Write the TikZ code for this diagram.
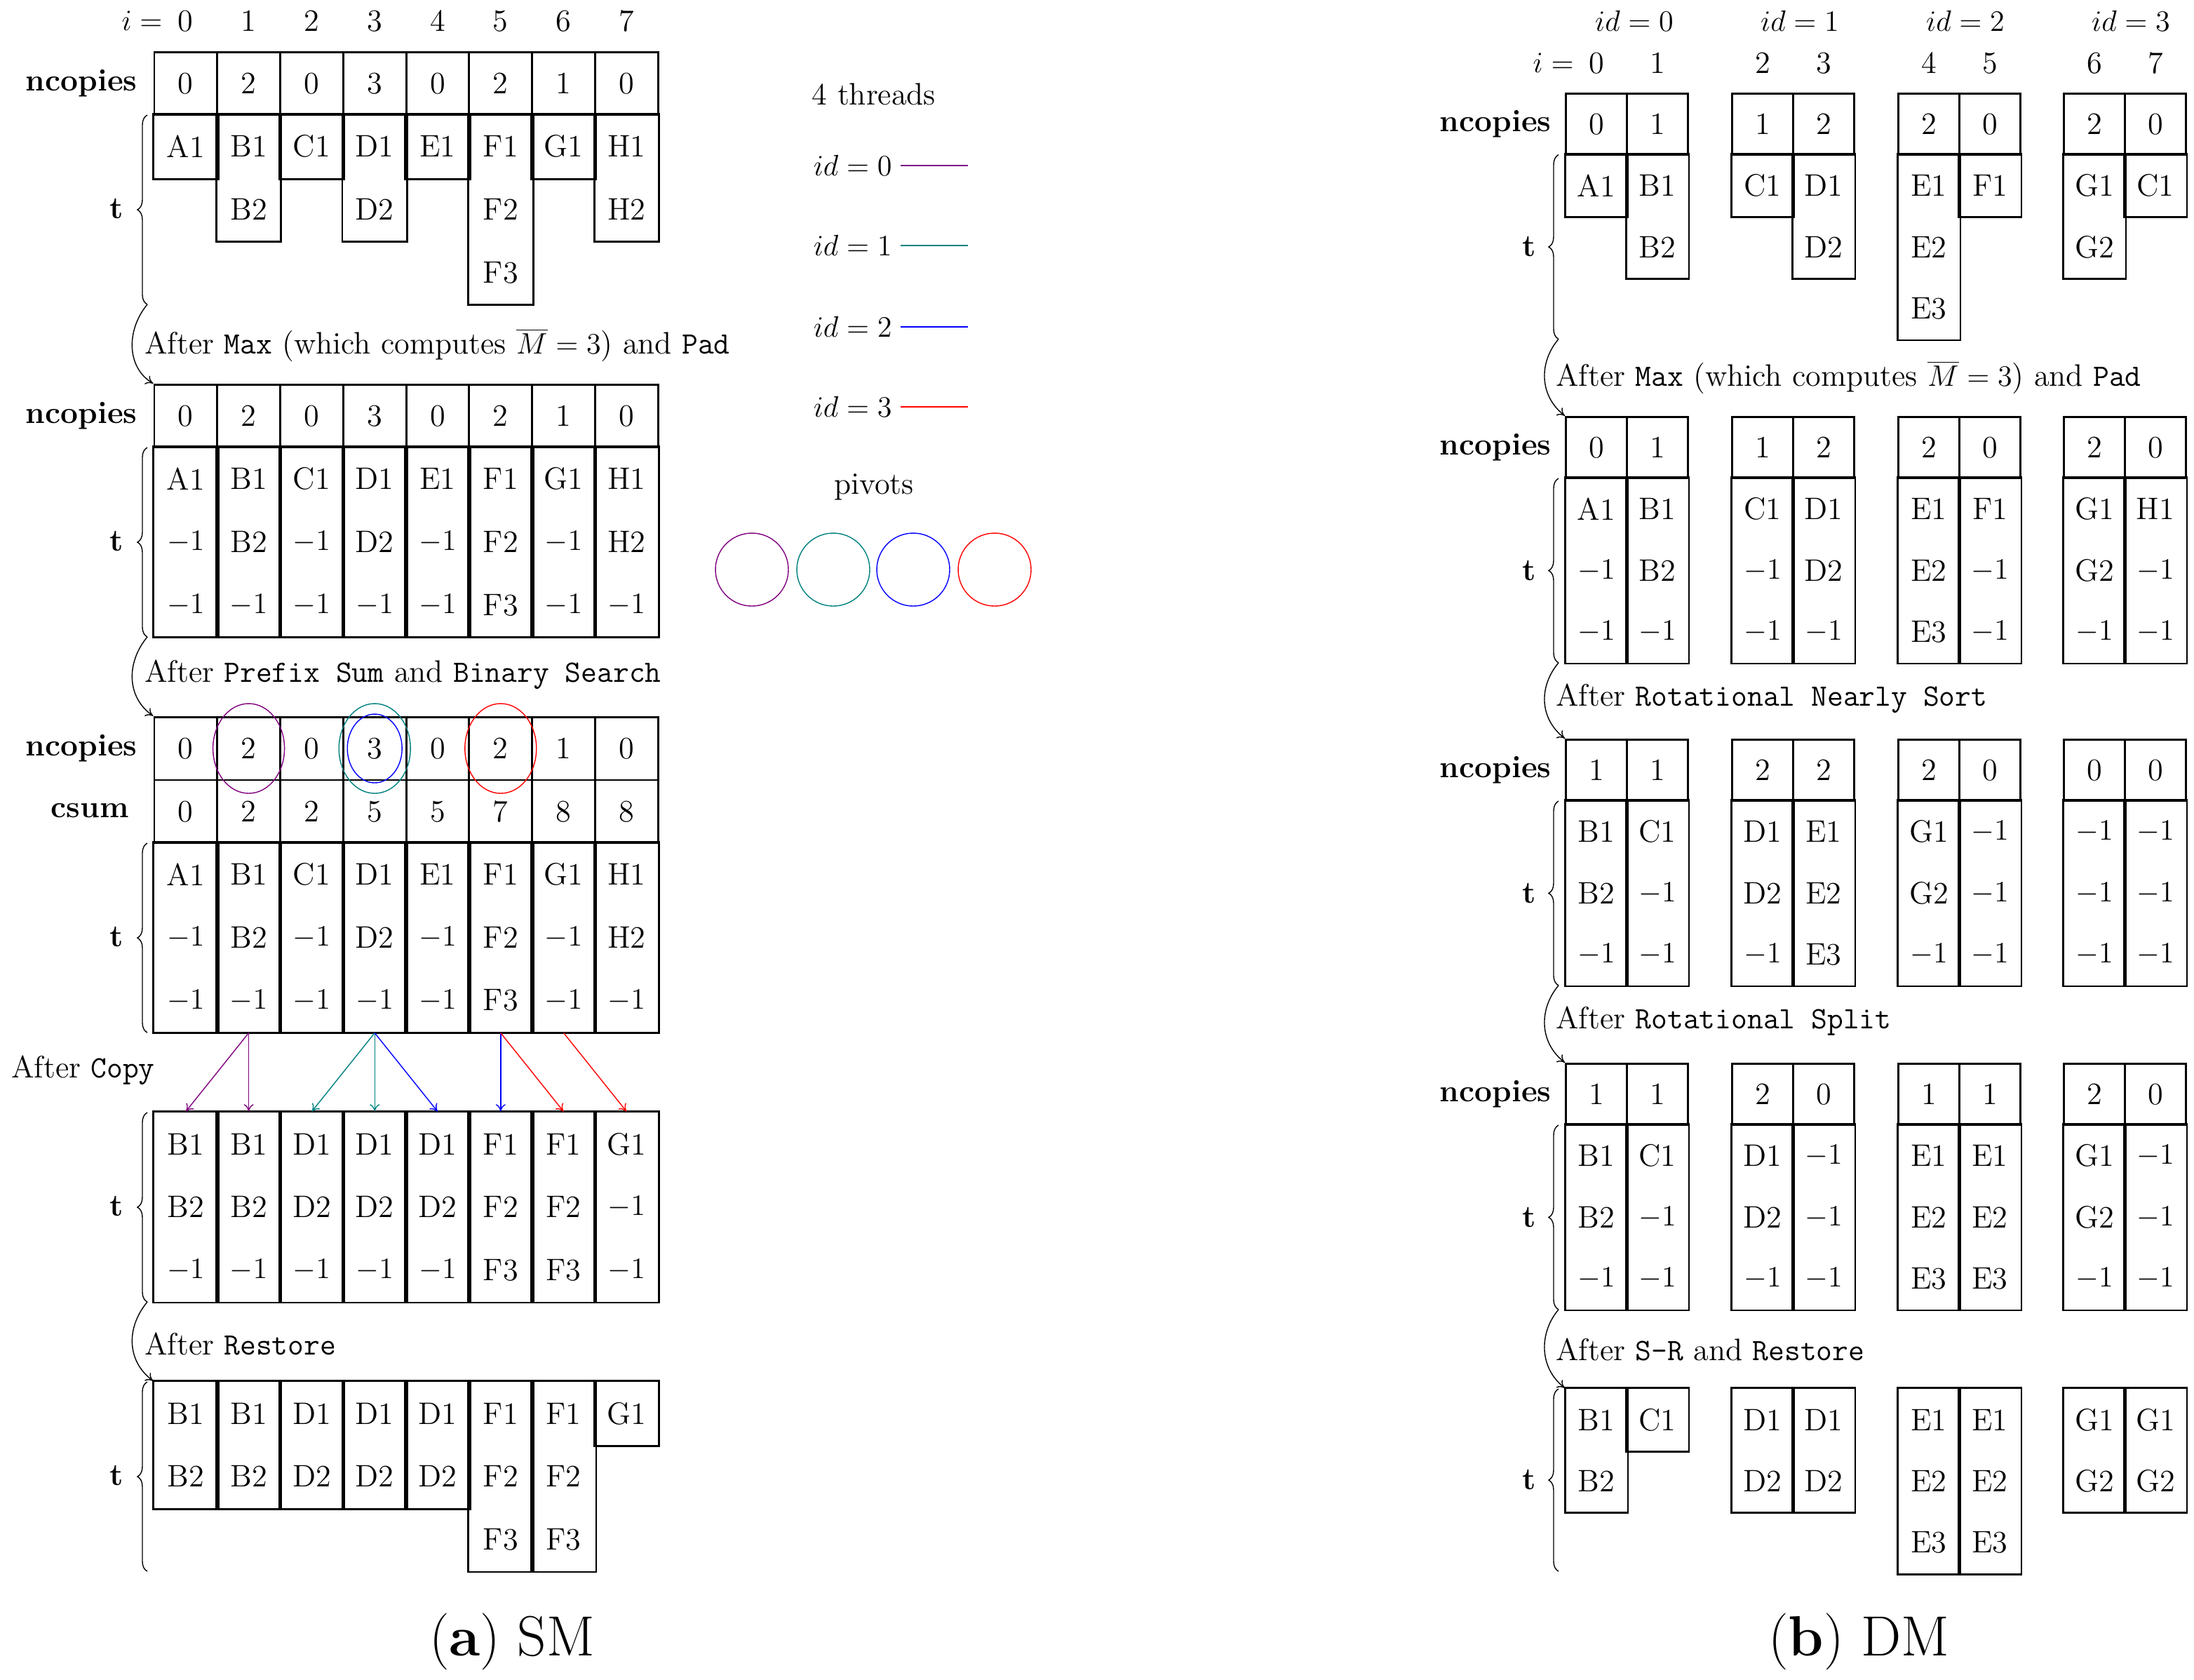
\documentclass[tikz,border=0pt]{standalone}
\usetikzlibrary{decorations.pathreplacing,arrows.meta}
\definecolor{mypurple}{rgb}{0.5,0,0.5}
\newcommand\mo{$-1$}
\newcommand\rh{44.9}
\newcommand\tab[4]{%
  \foreach \x/\lst [count=\c] in {#4} {%
    \foreach \t [count=\k from 0] in \lst {%
      \ifnum\k<#3\relax
        \node[cell,draw] (#1-\c-\k) at (\x, #2+\k*\rh) {\t};
      \else
        \node[cell] (#1-\c-\k) at (\x, #2+\k*\rh) {\t};
      \fi
      \xdef\lastk{\k}
    }
    \draw[thick] (#1-\c-#3.north west) rectangle (#1-\c-\lastk.south east);
  }%
}
\begin{document}
\begin{tikzpicture}[x=0.02cm,y=-0.02cm,
  every node/.style={font=\fontsize{12.6}{15}\selectfont},
  cellL/.style={thick,minimum width=0.898cm,minimum height=0.898cm,inner sep=0pt},
  cellR/.style={thick,minimum width=0.87cm,minimum height=0.876cm,inner sep=0pt},
  lab/.style={font=\fontsize{12.6}{15}\selectfont\bfseries},
  br/.style={decorate,decoration={brace,amplitude=4pt}},
  cv/.style={-{To[length=3pt,width=4pt]}},
  captxt/.style={font=\fontsize{23}{27}\selectfont}]
\useasboundingbox (0,0) rectangle (1564,1197);
% ================= (a) SM =================
\node[anchor=east] (ieq) at (122,15) {$i=$};
\foreach \v [count=\c from 0] in {0,...,7} \node (ih\c) at (132.4+44.9*\c,15) {\v};
\begin{scope}[cell/.style=cellL]
\renewcommand\rh{44.9}
\tab{L1}{59.5}{1}{132.4/{0,A1},177.3/{2,B1,B2},222.2/{0,C1},267.1/{3,D1,D2},312/{0,E1},356.9/{2,F1,F2,F3},401.8/{1,G1},446.7/{0,H1,H2}}
\tab{L2}{296.5}{1}{132.4/{0,A1,\mo,\mo},177.3/{2,B1,B2,\mo},222.2/{0,C1,\mo,\mo},267.1/{3,D1,D2,\mo},312/{0,E1,\mo,\mo},356.9/{2,F1,F2,F3},401.8/{1,G1,\mo,\mo},446.7/{0,H1,H2,\mo}}
\tab{L3}{533.5}{2}{132.4/{0,0,A1,\mo,\mo},177.3/{2,2,B1,B2,\mo},222.2/{0,2,C1,\mo,\mo},267.1/{3,5,D1,D2,\mo},312/{0,5,E1,\mo,\mo},356.9/{2,7,F1,F2,F3},401.8/{1,8,G1,\mo,\mo},446.7/{0,8,H1,H2,\mo}}
\tab{L4}{815.5}{0}{132.4/{B1,B2,\mo},177.3/{B1,B2,\mo},222.2/{D1,D2,\mo},267.1/{D1,D2,\mo},312/{D1,D2,\mo},356.9/{F1,F2,F3},401.8/{F1,F2,F3},446.7/{G1,\mo,\mo}}
\tab{L5}{1007.5}{0}{132.4/{B1,B2},177.3/{B1,B2},222.2/{D1,D2},267.1/{D1,D2},312/{D1,D2},356.9/{F1,F2,F3},401.8/{F1,F2,F3},446.7/{G1}}
\end{scope}
% labels
\node[lab,anchor=east] (n1) at (104,59.5) {ncopies};
\node[lab,anchor=east] (n2) at (104,296.5) {ncopies};
\node[lab,anchor=east] (n3) at (104,533.5) {ncopies};
\node[lab,anchor=east] (cs) at (98,578) {csum};
\node[lab] (t1) at (83,149) {t};
\node[lab] (t2) at (83,386) {t};
\node[lab] (t3) at (83,668) {t};
\node[lab] (t4) at (83,860) {t};
\node[lab] (t5) at (83,1052) {t};
\draw[br] (105,217) -- (105,82);
\draw[br] (105,454) -- (105,319);
\draw[br] (105,736) -- (105,601);
\draw[br] (105,928) -- (105,793);
\draw[br] (105,1120) -- (105,985);
\coordinate (ca1) at (105,217); \coordinate (ca2) at (105,454); \coordinate (ca4) at (105,928);
\draw[cv] (ca1) .. controls (90,235) and (90,262) .. (L2-1-0.north west);
\draw[cv] (ca2) .. controls (90,472) and (90,497) .. (L3-1-0.north west);
\draw[cv] (ca4) .. controls (90,946) and (90,970) .. (L5-1-0.north west);
\node[anchor=west] (aft1) at (97,246) {After \texttt{Max} (which computes $\overline{M}=3$) and \texttt{Pad}};
\node[anchor=west] (aft2) at (97,481) {After \texttt{Prefix Sum} and \texttt{Binary Search}};
\node[anchor=west] (aft3) at (2,763) {After \texttt{Copy}};
\node[anchor=west] (aft4) at (97,958) {After \texttt{Restore}};
% pivots circles
\draw[mypurple] (L3-2-0) ellipse [x radius=0.51cm,y radius=0.64cm];
\draw[teal] (L3-4-0) ellipse [x radius=0.51cm,y radius=0.64cm];
\draw[blue] (L3-4-0) ellipse [x radius=0.39cm,y radius=0.49cm];
\draw[red] (L3-6-0) ellipse [x radius=0.51cm,y radius=0.64cm];
% copy arrows
\draw[cv,mypurple] (L3-2-4.south) -- (L4-1-0.north);
\draw[cv,mypurple] (L3-2-4.south) -- (L4-2-0.north);
\draw[cv,teal] (L3-4-4.south) -- (L4-3-0.north);
\draw[cv,teal] (L3-4-4.south) -- (L4-4-0.north);
\draw[cv,blue] (L3-4-4.south) -- (L4-5-0.north);
\draw[cv,blue] (L3-6-4.south) -- (L4-6-0.north);
\draw[cv,red] (L3-6-4.south) -- (L4-7-0.north);
\draw[cv,red] (L3-7-4.south) -- (L4-8-0.north);
% legend
\node (thr) at (623,67) {4 threads};
\foreach \i/\y/\col in {0/118/mypurple,1/175/teal,2/233/blue,3/290/red}{
  \node[anchor=east] (lg\i) at (642,\y) {$id=\i$};
  \coordinate (le\i) at (690,\y);
  \draw[\col] (lg\i.east) -- (le\i);
}
\node (piv) at (623,347) {pivots};
\foreach \x/\col [count=\j] in {536/mypurple,594/teal,651/blue,709/red}
  \draw[\col] (\x,406) circle [radius=0.52cm];
\node[captxt] (capa) at (365,1170) {(\textbf{a}) SM};
% ================= (b) DM =================
\foreach \v/\x in {0/1165,1/1283,2/1401,3/1519} \node (id\v) at (\x,15) {$id=\v$};
\node[anchor=east] (ieqR) at (1128,45) {$i=$};
\foreach \v/\x in {0/1138,1/1181.5,2/1256.5,3/1300,4/1375,5/1418.5,6/1493,7/1536.5} \node (iR\v) at (\x,45) {\v};
\begin{scope}[cell/.style=cellR]
\renewcommand\rh{43.8}
\tab{R1}{88.5}{1}{1138/{0,A1},1181.5/{1,B1,B2},1256.5/{1,C1},1300/{2,D1,D2},1375/{2,E1,E2,E3},1418.5/{0,F1},1493/{2,G1,G2},1536.5/{0,C1}}
\tab{R2}{319}{1}{1138/{0,A1,\mo,\mo},1181.5/{1,B1,B2,\mo},1256.5/{1,C1,\mo,\mo},1300/{2,D1,D2,\mo},1375/{2,E1,E2,E3},1418.5/{0,F1,\mo,\mo},1493/{2,G1,G2,\mo},1536.5/{0,H1,\mo,\mo}}
\tab{R3}{549}{1}{1138/{1,B1,B2,\mo},1181.5/{1,C1,\mo,\mo},1256.5/{2,D1,D2,\mo},1300/{2,E1,E2,E3},1375/{2,G1,G2,\mo},1418.5/{0,\mo,\mo,\mo},1493/{0,\mo,\mo,\mo},1536.5/{0,\mo,\mo,\mo}}
\tab{R4}{780}{1}{1138/{1,B1,B2,\mo},1181.5/{1,C1,\mo,\mo},1256.5/{2,D1,D2,\mo},1300/{0,\mo,\mo,\mo},1375/{1,E1,E2,E3},1418.5/{1,E1,E2,E3},1493/{2,G1,G2,\mo},1536.5/{0,\mo,\mo,\mo}}
\tab{R5}{1012}{0}{1138/{B1,B2},1181.5/{C1},1256.5/{D1,D2},1300/{D1,D2},1375/{E1,E2,E3},1418.5/{E1,E2,E3},1493/{G1,G2},1536.5/{G1,G2}}
\end{scope}
\foreach \y [count=\j] in {88.5,319,549,780} \node[lab,anchor=east] (nR\j) at (1112,\y) {ncopies};
\foreach \y [count=\j] in {175.8,406.6,636.6,867.6,1055} \node[lab] (tR\j) at (1090,\y) {t};
\foreach \a/\b [count=\j] in {110.3/241.7,341/472.4,571/702.4,802/933.4,990/1120}
  \draw[br] (1111,\b) -- (1111,\a);
\coordinate (cb1) at (1111,241.7); \coordinate (cb2) at (1111,472.4);
\coordinate (cb3) at (1111,702.4); \coordinate (cb4) at (1111,933.4);
\draw[cv] (cb1) .. controls (1097,258) and (1097,282) .. (R2-1-0.north west);
\draw[cv] (cb2) .. controls (1097,489) and (1097,512) .. (R3-1-0.north west);
\draw[cv] (cb3) .. controls (1097,719) and (1097,743) .. (R4-1-0.north west);
\draw[cv] (cb4) .. controls (1097,950) and (1097,975) .. (R5-1-0.north west);
\node[anchor=west] (raft1) at (1103,269) {After \texttt{Max} (which computes $\overline{M}=3$) and \texttt{Pad}};
\node[anchor=west] (raft2) at (1103,498) {After \texttt{Rotational Nearly Sort}};
\node[anchor=west] (raft3) at (1103,728) {After \texttt{Rotational Split}};
\node[anchor=west] (raft4) at (1103,962) {After \texttt{S-R} and \texttt{Restore}};
\node[captxt] (capb) at (1325,1170) {(\textbf{b}) DM};
\end{tikzpicture}
\end{document}
